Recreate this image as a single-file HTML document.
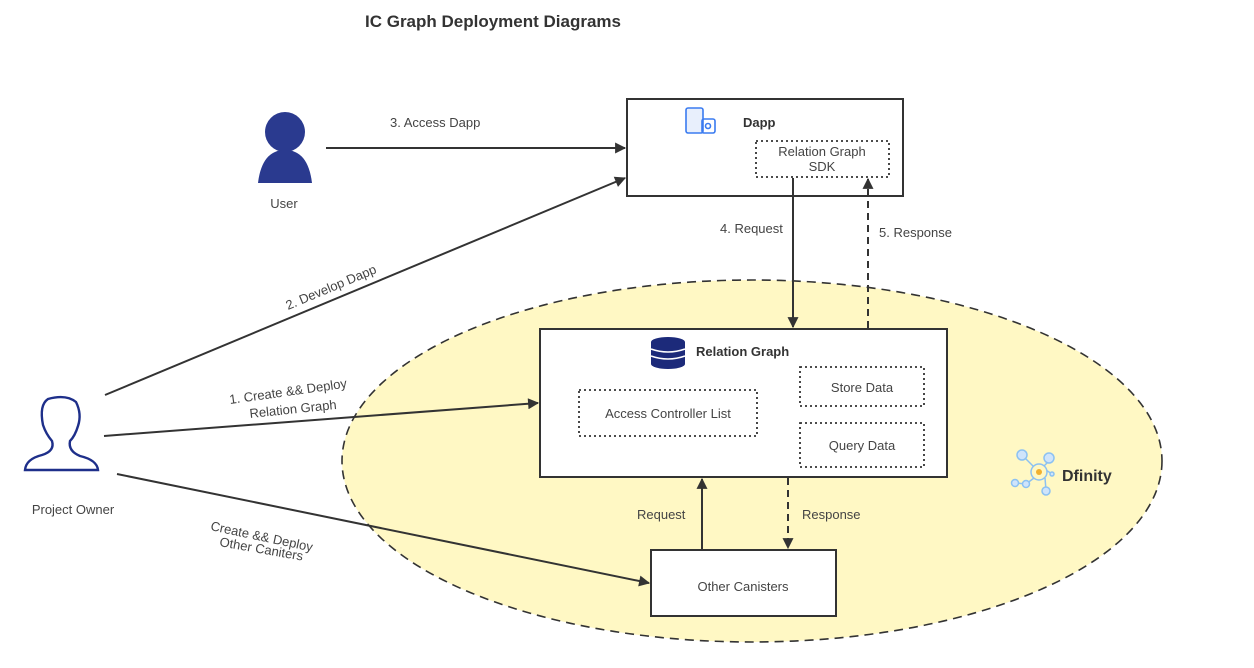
<!DOCTYPE html>
<html><head><meta charset="utf-8"><style>
html,body{margin:0;padding:0;background:#fff;}
svg{display:block;font-family:"Liberation Sans",sans-serif;}
text{fill:#444;font-size:13px;}
</style></head><body>
<svg width="1254" height="668" viewBox="0 0 1254 668" xmlns="http://www.w3.org/2000/svg">
<defs>
<marker id="a" viewBox="0 0 10 10" refX="9" refY="5" markerWidth="12" markerHeight="11" orient="auto-start-reverse" markerUnits="userSpaceOnUse"><path d="M0,0 L10,5 L0,10 z" fill="#333"/></marker>
</defs>
<text x="365" y="27" style="font-size:17px;font-weight:bold;fill:#333">IC Graph Deployment Diagrams</text>

<ellipse cx="752" cy="461" rx="410" ry="181" fill="#fff8c4" stroke="#333" stroke-width="1.6" stroke-dasharray="9,6"/>

<!-- Dapp -->
<rect x="627" y="99" width="276" height="97" fill="#fff" stroke="#333" stroke-width="2"/>
<g fill="none" stroke="#3a7bf0" stroke-width="1.6">
<rect x="686" y="108" width="17" height="25" rx="2" fill="#e8effc"/>
<rect x="702" y="119" width="13" height="14" rx="2"/>
<circle cx="708" cy="126" r="2.5"/>
</g>
<text x="743" y="127" style="font-weight:bold;font-size:13px;fill:#333">Dapp</text>
<rect x="756" y="141" width="133" height="36" fill="#fff" stroke="#333" stroke-width="1.8" stroke-dasharray="2,3"/>
<text x="822" y="156" text-anchor="middle">Relation Graph</text>
<text x="822" y="171" text-anchor="middle">SDK</text>

<!-- User -->
<circle cx="285" cy="132" r="20" fill="#2a3a8f"/>
<path d="M258,183 Q262,150 285,150 Q308,150 312,183 Z" fill="#2a3a8f"/>
<text x="284" y="208" text-anchor="middle">User</text>

<!-- Project owner -->
<path d="M48,399 Q66,394 76,402 Q82,414 78,426 Q75,436 70,441 Q68,451 80,456 Q97,460 98,470 L25,470 Q26,459 42,455 Q55,451 52,441 Q46,434 43,425 Q39,405 48,399 Z" fill="none" stroke="#1e2f8a" stroke-width="2.4"/>
<text x="73" y="514" text-anchor="middle">Project Owner</text>

<!-- Relation graph -->
<rect x="540" y="329" width="407" height="148" fill="#fff" stroke="#333" stroke-width="2"/>
<g fill="#1c2a7a"><ellipse cx="668" cy="342" rx="17" ry="5"/><rect x="651" y="342" width="34" height="22"/><ellipse cx="668" cy="364" rx="17" ry="5"/></g>
<g stroke="#fff" stroke-width="1.5" fill="none"><path d="M651,349 Q668,355 685,349"/><path d="M651,356 Q668,362 685,356"/></g>
<text x="696" y="356" style="font-weight:bold;font-size:13px;fill:#333">Relation Graph</text>
<rect x="579" y="390" width="178" height="46" fill="none" stroke="#333" stroke-width="1.8" stroke-dasharray="2,3"/>
<text x="668" y="418" text-anchor="middle">Access Controller List</text>
<rect x="800" y="367" width="124" height="39" fill="none" stroke="#333" stroke-width="1.8" stroke-dasharray="2,3"/>
<text x="862" y="392" text-anchor="middle">Store Data</text>
<rect x="800" y="423" width="124" height="44" fill="none" stroke="#333" stroke-width="1.8" stroke-dasharray="2,3"/>
<text x="862" y="450" text-anchor="middle">Query Data</text>

<!-- Other canisters -->
<rect x="651" y="550" width="185" height="66" fill="#fff" stroke="#333" stroke-width="2"/>
<text x="743" y="591" text-anchor="middle">Other Canisters</text>

<!-- Dfinity -->
<g fill="#cfe4fb" stroke="#8cc1f2" stroke-width="1.5">
<line x1="1024" y1="457" x2="1037" y2="470"/><line x1="1050" y1="460" x2="1040" y2="470"/><line x1="1016" y1="483" x2="1026" y2="484"/><line x1="1026" y1="484" x2="1034" y2="478"/><line x1="1045" y1="478" x2="1046" y2="490"/><line x1="1046" y1="470" x2="1052" y2="474"/>
<circle cx="1022" cy="455" r="5"/><circle cx="1049" cy="458" r="5"/><circle cx="1015" cy="483" r="3.5"/><circle cx="1026" cy="484" r="3.5"/><circle cx="1046" cy="491" r="4"/><circle cx="1052" cy="474" r="2"/>
<circle cx="1039" cy="472" r="8" fill="#fff8c4"/>
</g>
<circle cx="1039" cy="472" r="3" fill="#f0b030"/>
<text x="1062" y="481" style="font-weight:bold;font-size:16px;fill:#333">Dfinity</text>

<!-- connectors -->
<g stroke="#333" stroke-width="2" fill="none">
<line x1="326" y1="148" x2="625" y2="148" marker-end="url(#a)"/>
<line x1="105" y1="395" x2="625" y2="178" marker-end="url(#a)"/>
<line x1="104" y1="436" x2="538" y2="403" marker-end="url(#a)"/>
<line x1="117" y1="474" x2="649" y2="583" marker-end="url(#a)"/>
<line x1="793" y1="178" x2="793" y2="327" marker-end="url(#a)"/>
<line x1="868" y1="328" x2="868" y2="179" stroke-dasharray="7,5" marker-end="url(#a)"/>
<line x1="702" y1="549" x2="702" y2="479" marker-end="url(#a)"/>
<line x1="788" y1="478" x2="788" y2="548" stroke-dasharray="7,5" marker-end="url(#a)"/>
</g>
<text x="390" y="127">3. Access Dapp</text>
<text x="720" y="233">4. Request</text>
<text x="879" y="237">5. Response</text>
<text x="637" y="519">Request</text>
<text x="802" y="519">Response</text>
<text transform="translate(288,310) rotate(-22.7)">2. Develop Dapp</text>
<text transform="translate(230,404) rotate(-8)">1. Create &amp;&amp; Deploy</text>
<text transform="translate(250,418) rotate(-6)">Relation Graph</text>
<text transform="translate(210,530) rotate(12)">Create &amp;&amp; Deploy</text>
<text transform="translate(219,546) rotate(10)">Other Caniters</text>
</svg>
</body></html>
